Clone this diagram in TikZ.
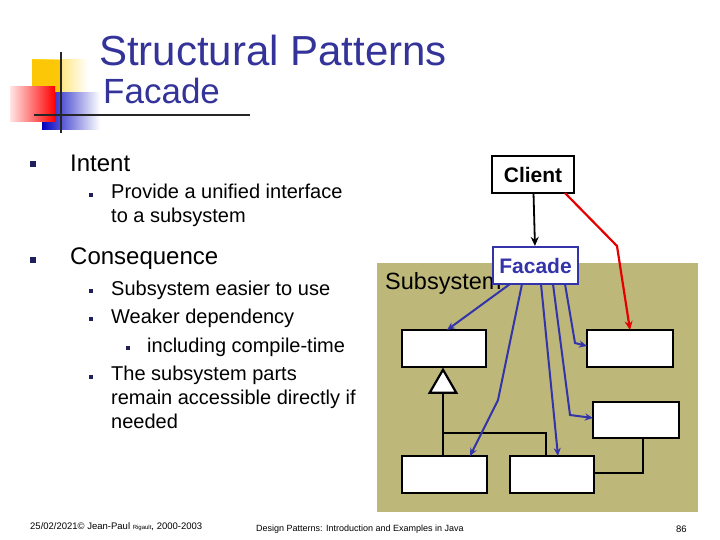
\documentclass[tikz,border=0pt]{standalone}
\usepackage{fontspec}
\setmainfont{Liberation Sans}
\usetikzlibrary{arrows.meta,shapes.geometric}
\definecolor{ttl}{RGB}{51,51,153}
\definecolor{olive}{RGB}{189,183,122}
\definecolor{fblue}{RGB}{51,51,170}
\begin{document}
\begin{tikzpicture}[x=1pt,y=-1pt,
  bx/.style={draw=black,line width=2.2pt,fill=white,inner sep=0pt},
  bl/.style={fill=ttl!60!black,minimum size=5.5pt,inner sep=0pt},
  bla/.style={draw=fblue,line width=2pt,-{Stealth[length=8pt,width=7pt]}},
  txt/.style={anchor=west,inner sep=0pt,align=left}]
\useasboundingbox (0,0) rectangle (720,540);
% logo
\shade[left color=yellow!60!orange, right color=white] (32,60) rectangle (88,97);
\fill[yellow!60!orange] (32,60) rectangle (60,97);
\shade[left color=blue!75!black, right color=white] (42,93) rectangle (100,130);
\shade[left color=red!10, right color=red] (10,87) rectangle (55,122);
\draw[line width=2pt,black!85] (61,52) -- (61,133);
\draw[line width=2pt,black!85] (34,115) -- (250,115);
% titles
\node[txt,text=ttl,font=\fontsize{42}{46}\selectfont] (t1) at (99,50) {Structural Patterns};
\node[txt,text=ttl,font=\fontsize{35}{40}\selectfont] (t2) at (103,91) {Facade};
% bullets
\node[bl] (b1) at (33,164) {};
\node[txt,font=\fontsize{24}{28}\selectfont] (i1) at (70,163) {Intent};
\node[bl,minimum size=4.5pt] (b2) at (91,195) {};
\node[txt,font=\fontsize{20}{24}\selectfont,anchor=north west] (i2) at (111,184) {Provide a unified interface\\to a subsystem};
\node[bl] (b3) at (33,260) {};
\node[txt,font=\fontsize{24}{28}\selectfont] (c1) at (70,259) {Consequence};
\node[bl,minimum size=4.5pt] (b4) at (91,291) {};
\node[txt,font=\fontsize{20}{24}\selectfont] (c2) at (111,290) {Subsystem easier to use};
\node[bl,minimum size=4.5pt] (b5) at (91,319) {};
\node[txt,font=\fontsize{20}{24}\selectfont] (c3) at (111,318) {Weaker dependency};
\node[bl,minimum size=4pt] (b6) at (128,348) {};
\node[txt,font=\fontsize{20}{24}\selectfont] (c4) at (147,347) {including compile-time};
\node[bl,minimum size=4.5pt] (b7) at (91,377) {};
\node[txt,font=\fontsize{20}{24}\selectfont,anchor=north west] (c5) at (111,366) {The subsystem parts\\remain accessible directly if\\needed};
% diagram
\fill[olive] (377,263) rectangle (698,512);
\node[txt,font=\fontsize{23.5}{26}\selectfont] (sub) at (385,283) {Subsystem};
\node[bx,minimum width=82pt,minimum height=37pt,font=\bfseries\fontsize{21}{24}\selectfont] (cl) at (533,174.5) {Client};
\node[bx,draw=fblue,text=fblue,minimum width=85pt,minimum height=37pt,font=\bfseries\fontsize{21}{24}\selectfont] (fa) at (535.5,265.5) {Facade};
\node[bx,minimum width=84pt,minimum height=37pt] (s1) at (444,348.5) {};
\node[bx,minimum width=86pt,minimum height=37pt] (s2) at (630,348.5) {};
\node[bx,minimum width=86pt,minimum height=36pt] (s3) at (636,420) {};
\node[bx,minimum width=85pt,minimum height=37pt] (s4) at (444.5,474.5) {};
\node[bx,minimum width=84pt,minimum height=37pt] (s5) at (552,474.5) {};
\node[bx,isosceles triangle,shape border rotate=90,isosceles triangle apex angle=60,minimum width=25pt,minimum height=23pt,anchor=apex] (tri) at (443,367.5) {};
\draw[line width=2.2pt] (tri.south) -- (443,456);
\draw[line width=2.2pt] (443,433) -- (546,433) -- (546,456);
\draw[line width=2.2pt] (643,438) -- (643,473) -- (594,473);
\draw[line width=1.8pt,-{Stealth[length=9pt,width=8pt]}] (cl) -- (fa);
\draw[red!90!black,line width=2.2pt,-{Stealth[length=9pt,width=8pt]}] (565,193) -- (617,246) -- (630,330);
\draw[bla] (510,284) -- (447,330);
\draw[bla] (522,284) -- (498,400) -- (470,456);
\draw[bla] (541,284) -- (558,456);
\draw[bla] (553,284) -- (570,415) -- (593,418);
\draw[bla] (565,284) -- (575,343) -- (587,346);
% footer
\node[txt,font=\fontsize{9.5}{10}\selectfont] (f1) at (30,527) {25/02/2021© Jean-Paul {\fontsize{6}{7}\selectfont Rigault}, 2000-2003};
\node[txt,font=\fontsize{9}{10}\selectfont] (f2) at (256,529) {Design Patterns: Introduction and Examples in Java};
\node[txt,font=\fontsize{9.5}{10}\selectfont] (f3) at (676,529) {86};
\end{tikzpicture}
\end{document}
